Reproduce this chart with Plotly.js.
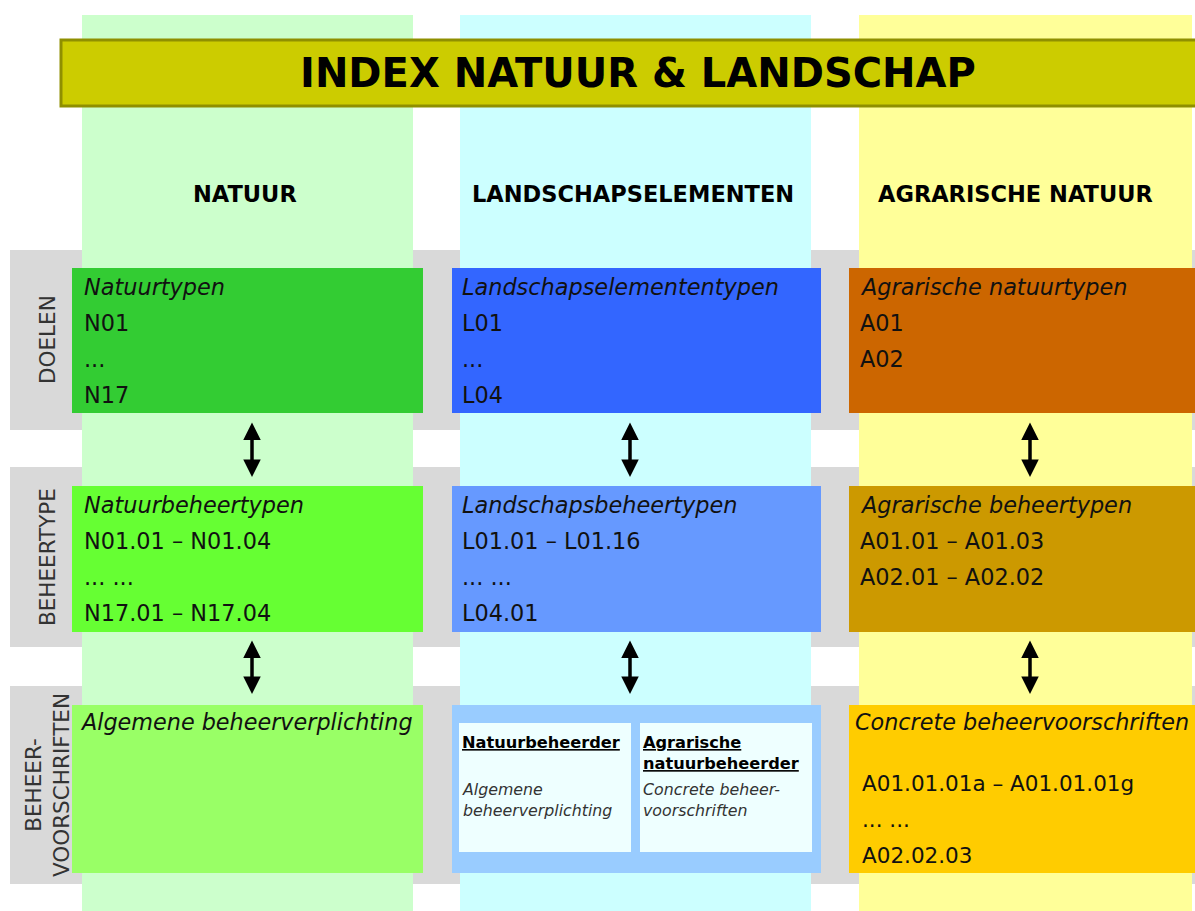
<!DOCTYPE html>
<html><head><meta charset="utf-8">
<script src="https://cdn.plot.ly/plotly-3.0.1.min.js"></script>
<style>html,body{margin:0;padding:0;background:#fff;overflow:hidden}</style>
</head><body><div id="chart" style="width:1195px;height:911px"></div>
<script>
// ---- content ----
const chartTitle = "INDEX NATUUR & LANDSCHAP";
const columnHeaders = ["NATUUR", "LANDSCHAPSELEMENTEN", "AGRARISCHE NATUUR"];
const rowLabels = ["DOELEN", "BEHEERTYPE", "BEHEER-<br>VOORSCHRIFTEN"];
const natuurDoelen = ["Natuurtypen", "N01", "...", "N17"];
const landschapDoelen = ["Landschapselemententypen", "L01", "...", "L04"];
const agrarischDoelen = ["Agrarische natuurtypen", "A01", "A02"];
const natuurBeheertype = ["Natuurbeheertypen", "N01.01 – N01.04", "... ...", "N17.01 – N17.04"];
const landschapBeheertype = ["Landschapsbeheertypen", "L01.01 – L01.16", "... ...", "L04.01"];
const agrarischBeheertype = ["Agrarische beheertypen", "A01.01 – A01.03", "A02.01 – A02.02"];
const natuurVoorschriften = ["Algemene beheerverplichting"];
const landschapBeheerders = ["Natuurbeheerder", "Agrarische<br>natuurbeheerder"];
const landschapVoorschriften = ["Algemene<br>beheerverplichting", "Concrete beheer-<br>voorschriften"];
const agrarischVoorschriften = ["Concrete beheervoorschriften", "A01.01.01a – A01.01.01g", "... ...", "A02.02.03"];

// ---- layout geometry & styles ----
const F = "DejaVu Sans, Verdana, sans-serif";
const colBands = [[82, 413], [460, 811], [859, 1192]];
const colBandColors = ["#CCFFCC", "#CCFFFF", "#FFFF99"];
const boxX = [[72, 423], [452, 821], [849, 1205]];
const rowBands = [[250, 430], [467, 647], [686, 884]];
const boxY = [[268, 413], [486, 632], [705, 873]];
const boxColors = [
  ["#33CC33", "#3366FF", "#CC6600"],
  ["#66FF33", "#6699FF", "#CC9900"],
  ["#99FF66", "#99CCFF", "#FFCC00"]
];
const textX = [82, 460, 858];
const arrowX = [252, 630, 1030];

const shapes = [];
const annotations = [];
function rect(x0, x1, y0, y1, fill, line) {
  shapes.push({type: "rect", xref: "x", yref: "y", x0, x1, y0, y1, fillcolor: fill,
    line: line || {width: 0}, layer: "below"});
}
function txt(x, y, text, size, extra) {
  annotations.push(Object.assign({x, y, xref: "x", yref: "y", text, showarrow: false,
    xanchor: "left", yanchor: "middle", align: "left",
    font: {family: F, size, color: "#111"}}, extra || {}));
}

// gray row bands
rowBands.forEach(r => rect(10, 1205, r[0], r[1], "#D9D9D9"));
// column bands
colBands.forEach((c, i) => rect(c[0], c[1], 15, 911, colBandColors[i]));
// title bar
rect(61, 1210, 40, 106, "#CCCC00", {color: "#8F8F00", width: 3});
txt(638, 73, "<b>" + chartTitle + "</b>", 40, {xanchor: "center", font: {family: F, size: 40, color: "#000"}});
// column headers
columnHeaders.forEach((h, i) => {
  const cx = [245, 633, 1015][i];
  txt(cx, 194, "<b>" + h + "</b>", 22.5, {xanchor: "center", font: {family: F, size: 22.5, color: "#000"}});
});
// boxes
boxY.forEach((by, r) => boxX.forEach((bx, c) => rect(bx[0], bx[1], by[0], by[1], boxColors[r][c])));
// inner boxes landscape row 3
const innerX = [[459, 631], [640, 812]];
innerX.forEach(ix => rect(ix[0], ix[1], 723, 852, "#EEFFFF"));

// row labels (rotated)
rowLabels.forEach((l, i) => {
  const cy = (rowBands[i][0] + rowBands[i][1]) / 2;
  annotations.push({x: 47, y: cy, xref: "x", yref: "y", text: l, showarrow: false, textangle: -90,
    xanchor: "center", yanchor: "middle", align: "center",
    font: {family: F, size: 21.5, color: "#333"}});
});

// list blocks
function block(lines, col, row, size) {
  lines.forEach((t, k) => {
    const y = boxY[row][0] + 19 + 36 * k;
    txt(textX[col], y, k === 0 ? "<i>" + t + "</i>" : t, size);
  });
}
block(natuurDoelen, 0, 0, 22.4);
block(landschapDoelen, 1, 0, 22.4);
block(agrarischDoelen, 2, 0, 22.4);
block(natuurBeheertype, 0, 1, 22.4);
block(landschapBeheertype, 1, 1, 22.4);
block(agrarischBeheertype, 2, 1, 22.4);

// row 3
txt(78, 722, "<i>" + natuurVoorschriften[0] + "</i>", 22.3);
agrarischVoorschriften.forEach((t, k) => {
  if (k === 0) txt(853, 722, "<i>" + t + "</i>", 22.3);
  else txt(860, 783 + 36 * (k - 1), t, 21.5);
});
landschapBeheerders.forEach((t, k) => {
  const u = t.split("<br>").map(s => "<u>" + s + "</u>").join("<br>");
  txt(innerX[k][0] + 1, 731, "<b>" + u + "</b>", 16.2, {yanchor: "top", font: {family: F, size: 16.2, color: "#000"}});
});
landschapVoorschriften.forEach((t, k) => {
  txt(innerX[k][0] + 1, 778, "<i>" + t + "</i>", 15.8, {yanchor: "top", font: {family: F, size: 15.8, color: "#333"}});
});

// double-headed arrows
const arrowSpans = [[421, 477], [639, 694]];
arrowSpans.forEach(s => arrowX.forEach(x => {
  annotations.push({x: x, y: s[1], ax: x, ay: s[0], xref: "x", yref: "y", axref: "x", ayref: "y",
    text: "", showarrow: true, arrowhead: 2, arrowsize: 1.0, arrowwidth: 3.5, arrowcolor: "#000",
    arrowside: "end+start", startarrowhead: 2, startarrowsize: 1.0});
}));

const layout = {
  width: 1195, height: 911,
  margin: {l: 0, r: 0, t: 0, b: 0, pad: 0},
  paper_bgcolor: "#fff", plot_bgcolor: "#fff",
  showlegend: false,
  xaxis: {range: [0, 1195], visible: false, fixedrange: true},
  yaxis: {range: [911, 0], visible: false, fixedrange: true},
  shapes, annotations
};
Plotly.newPlot("chart", [{x: [], y: [], type: "scatter", mode: "markers", hoverinfo: "skip"}], layout,
  {staticPlot: true, displayModeBar: false});
</script></body></html>
